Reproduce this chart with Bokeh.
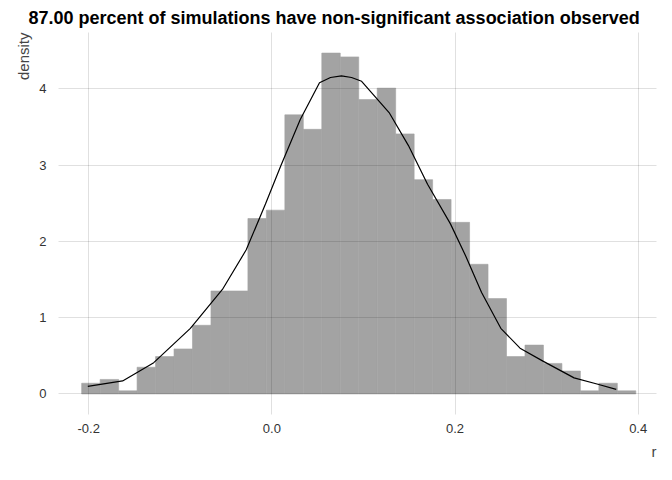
from bokeh.plotting import figure
from bokeh.models import Title, Range1d, FixedTicker
from bokeh.embed import file_html
from bokeh.resources import INLINE
import numpy as np

bin_start = -0.2077
bin_width = 0.02017
densities = [0.14, 0.19, 0.04, 0.35, 0.49, 0.59, 0.90, 1.35, 1.35, 2.30,
             2.41, 3.66, 3.47, 4.47, 4.42, 3.86, 4.01, 3.41, 2.81, 2.55,
             2.25, 1.70, 1.25, 0.49, 0.64, 0.40, 0.30, 0.04, 0.14, 0.04]
curve_x = [-0.201, -0.163, -0.129, -0.089, -0.054, -0.028, -0.007, 0.010, 0.031, 0.052,
           0.064, 0.076, 0.087, 0.098, 0.128, 0.149, 0.170, 0.195, 0.212, 0.229, 0.250, 0.271,
           0.296, 0.330, 0.355, 0.376]
curve_y = [0.10, 0.17, 0.41, 0.86, 1.37, 1.89, 2.49, 3.0, 3.6, 4.08,
           4.15, 4.17, 4.15, 4.10, 3.69, 3.26, 2.75, 2.23, 1.80, 1.33, 0.86, 0.60,
           0.43, 0.21, 0.13, 0.06]
x_ticks = [-0.2, 0.0, 0.2, 0.4]
y_ticks = [0, 1, 2, 3, 4]
title_text = "87.00 percent of simulations have non-significant association observed"

p = figure(width=664, height=464, output_backend="svg", toolbar_location=None,
           x_range=Range1d(-0.233, 0.420), y_range=Range1d(-0.27, 4.74),
           min_border_left=58, min_border_right=8, min_border_top=0, min_border_bottom=0)
p.title.text = title_text
p.title.text_font = "Liberation Sans"
p.title.text_font_size = "18px"
p.title.text_font_style = "bold"
p.title.text_color = "black"
p.title.offset = -30

lefts = bin_start + bin_width * np.arange(len(densities))
p.quad(left=lefts, right=lefts + bin_width, bottom=0, top=densities,
       fill_color="#a3a3a3", line_color="#a3a3a3", line_width=0.6)
p.line(curve_x, curve_y, line_color="black", line_width=1.2)

for ax in (p.xaxis[0], p.yaxis[0]):
    ax.axis_line_color = None
    ax.major_tick_line_color = None
    ax.minor_tick_line_color = None
    ax.major_label_text_font = "Liberation Sans"
    ax.major_label_text_font_size = "13px"
    ax.major_label_text_color = "#333333"
p.xaxis.ticker = FixedTicker(ticks=x_ticks)
p.yaxis.ticker = FixedTicker(ticks=y_ticks)
p.xaxis.major_label_standoff = 3
p.yaxis.major_label_standoff = 6
p.xaxis.major_label_overrides = {-0.2: "-0.2", 0.0: "0.0", 0.2: "0.2", 0.4: "0.4"}
p.grid.grid_line_color = "black"
p.grid.grid_line_alpha = 0.12
p.grid.level = "overlay"
p.outline_line_color = None

p.add_layout(Title(text="r", align="right", text_font="Liberation Sans",
                   text_font_size="15px", text_font_style="normal"), "below")
p.add_layout(Title(text="density", align="right", text_font="Liberation Sans",
                   text_font_size="15px", text_font_style="normal"), "left")

open("out.html", "w").write(file_html(p, INLINE))
